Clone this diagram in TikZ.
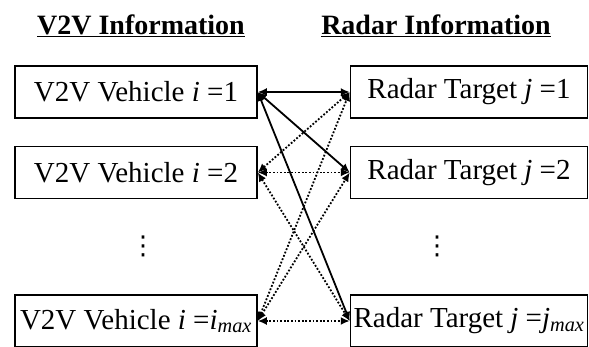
\documentclass[tikz,border=0pt]{standalone}
\usepackage{fontspec}
\setmainfont{Liberation Serif}
\newfontfamily\symfont{DejaVu Sans}
\usetikzlibrary{calc}
\usetikzlibrary{positioning}
\usetikzlibrary{arrows.meta}
\tikzset{node distance=27pt, % vertical gap between the boxes
  every node/.style={align=center, font=\fontsize{29}{33}\selectfont},
         infobox/.style={ % one box per vehicle or target
           draw, line width=1.5pt,
           minimum height=52pt, inner sep=1pt},
         vbox/.style={infobox, minimum width=242pt},
         rbox/.style={infobox, minimum width=237pt},
         heading/.style={font=\fontsize{28}{32}\selectfont\bfseries},
         morerows/.style={font=\symfont\fontsize{26}{30}\selectfont, inner sep=0pt},
         every edge/.style={  % links between the two lists
           draw, {Latex[length=9pt,width=8pt]}-{Latex[length=9pt,width=8pt]},
           line width=1.8pt},
         maybe/.style={dash pattern=on 1.8pt off 1.8pt}}

\begin{document}
\begin{tikzpicture}
  \useasboundingbox (0,0) rectangle (589pt,-347pt);

  % column titles
  \node [heading] (vtitle) at (141pt,-26pt) {\underline{V2V Information}};
  \node [heading] (rtitle) at (436pt,-26pt) {\underline{Radar Information}};

  % V2V column
  \node [vbox] (v1) at (136pt,-92pt) {V2V Vehicle \textit{i} =1};
  \node [vbox, below=of v1] (v2) {V2V Vehicle \textit{i} =2};
  \node [vbox, below=95pt of v2] (vmax) {V2V Vehicle \textit{i} =\textit{i}\textsubscript{\textit{max}}};

  % radar column
  \node [rbox, right=92pt of v1] (r1) {Radar Target \textit{j} =1};
  \node [rbox, below=of r1] (r2) {Radar Target \textit{j} =2};
  \node [rbox, below=95pt of r2] (rmax) {Radar Target \textit{j} =\textit{j}\textsubscript{\textit{max}}};

  \node [morerows] (vdots) at ($(v2.south)!0.5!(vmax.north)+(7pt,0)$) {⋮};
  \node [morerows] (rdots) at ($(r2.south)!0.5!(rmax.north)+(-32pt,0)$) {⋮};

  \draw (v1.east) edge (r1.west);
  \draw (v1.east) edge (r2.west);
  \draw (v1.east) edge (rmax.west);

  \draw (v2.east) edge[maybe] (r1.west);
  \draw (v2.east) edge[maybe] (r2.west);
  \draw (v2.east) edge[maybe] (rmax.west);

  \draw (vmax.east) edge[maybe] (r1.west);
  \draw (vmax.east) edge[maybe] (r2.west);
  \draw (vmax.east) edge[maybe] (rmax.west);
\end{tikzpicture}
\end{document}
